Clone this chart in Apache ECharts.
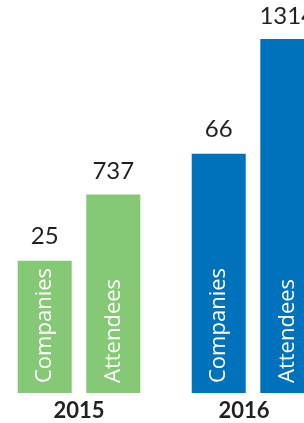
<!DOCTYPE html>
<html>
<head>
<meta charset="utf-8">
<script src="https://cdn.jsdelivr.net/npm/echarts@6/dist/echarts.min.js"></script>
<style>
  html, body { margin: 0; padding: 0; background: #fff; }
  #chart { width: 304px; height: 423px; }
</style>
</head>
<body>
<div id="chart"></div>
<script>
const years = ['2015', '2016'];
const companies = [25, 66];
const attendees = [737, 1314];

const green = '#85c875';
const blue = '#0071bb';
const yearColor = [green, blue];

const chart = echarts.init(document.getElementById('chart'));

// 柱内竖排文字
const innerLabel = name => ({
  show: true,
  position: 'insideBottom',
  rotate: 90,
  align: 'left',
  verticalAlign: 'middle',
  distance: 10,
  formatter: name,
  color: '#fff',
  fontFamily: 'Open Sans',
  fontSize: 22
});

// 柱顶数值，用一个高度为0的叠加柱来放
const topLabel = (arr, distance) => ({
  show: true,
  position: 'top',
  distance,
  color: '#231f20',
  fontFamily: 'Lato',
  fontSize: 24,
  formatter: p => String(arr[p.dataIndex])
});

const toData = arr => arr.map((v, i) => ({
  value: v,
  itemStyle: { color: yearColor[i] }
}));

chart.setOption({
  animation: false,
  grid: { left: -8, right: -36, top: 0, bottom: 30, outerBoundsMode: 'none' },
  xAxis: {
    type: 'category',
    data: years,
    axisLine: { show: false },
    axisTick: { show: false },
    axisLabel: {
      margin: 7,
      fontFamily: 'Lato',
      fontWeight: 'bold',
      fontSize: 22,
      color: '#231f20',
      formatter: v => v === '2016' ? '{s|' + v + '}' : v,
      rich: { s: { fontFamily: 'Lato', fontWeight: 'bold', fontSize: 22, color: '#231f20', padding: [0, 18, 0, 0] } }
    }
  },
  yAxis: [
    { type: 'value', min: -25.7, max: 124.9, startValue: -25.7, show: false, splitLine: { show: false } },
    { type: 'value', min: 0, max: 1459, show: false, splitLine: { show: false } }
  ],
  series: [
    {
      name: 'Companies',
      type: 'bar',
      yAxisIndex: 0,
      stack: 'c',
      barWidth: 54,
      barGap: '27%',
      data: toData(companies),
      label: innerLabel('Companies')
    },
    {
      name: 'Attendees',
      type: 'bar',
      yAxisIndex: 1,
      stack: 'a',
      barWidth: 54,
      barGap: '27%',
      data: toData(attendees),
      label: innerLabel('Attendees')
    },
    {
      name: 'CompaniesTop',
      type: 'bar',
      yAxisIndex: 0,
      stack: 'c',
      barWidth: 54,
      data: companies.map(() => 0),
      itemStyle: { color: 'transparent' },
      label: topLabel(companies, 12)
    },
    {
      name: 'AttendeesTop',
      type: 'bar',
      yAxisIndex: 1,
      stack: 'a',
      barWidth: 54,
      data: attendees.map(() => 0),
      itemStyle: { color: 'transparent' },
      label: topLabel(attendees, 11)
    }
  ]
});
</script>
</body>
</html>
